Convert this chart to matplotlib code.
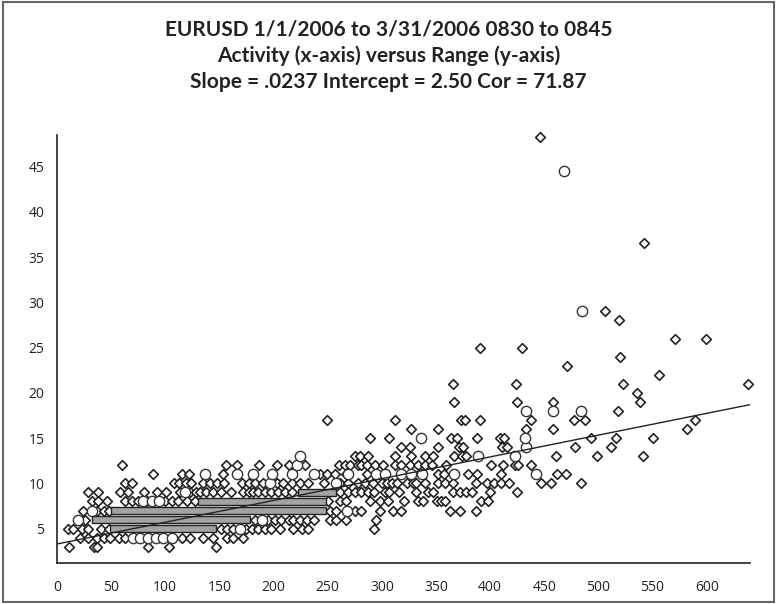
import matplotlib.pyplot as plt
from matplotlib.patches import Rectangle

# activity (x) and range (y), diamond markers
diamond_x = [11, 34, 37, 84, 103, 147,
             21, 29, 37, 43, 49, 57, 63, 115, 123, 135, 144, 157, 163, 172,
             10, 15, 23, 29, 41, 48, 151, 157, 163, 175, 180, 186, 192, 198, 206, 218, 226, 232, 293,
             26, 183, 195, 201, 207, 214, 218, 224, 231, 237, 252, 258, 267, 295,
             24, 37, 43, 48, 252, 258, 275, 281, 298, 310, 318, 363, 372, 387,
             32, 38, 46, 63, 69, 75, 83, 100, 106, 112, 120, 127, 250, 261, 267, 289, 298, 306, 320,
             333, 338, 351, 355, 358, 392, 398,
             29, 38, 58, 66, 80, 92, 101, 114, 123, 128, 132, 138, 144, 151, 161, 172, 177, 181, 186,
             192, 198, 204, 211, 217, 261, 269, 275, 281, 287, 293, 303, 307, 316, 332, 343, 347, 366,
             372, 378, 383, 400, 425,
             63, 69, 108, 113, 119, 124, 135, 141, 148, 154, 171, 177, 183, 190, 203, 209, 217, 224,
             232, 247, 261, 269, 278, 284, 292, 300, 305, 309, 314, 323, 329, 332, 340, 352, 358, 366,
             387, 397, 404, 410, 417, 447, 456, 484,
             89, 115, 122, 153, 243, 249, 257, 267, 286, 352, 357, 380, 388, 410, 462, 470,
             60, 156, 166, 187, 203, 214, 229, 260, 266, 271, 278, 281, 286, 294, 301, 312, 318, 326,
             333, 340, 346, 359, 401, 412, 423, 426, 438,
             275, 280, 287, 312, 327, 340, 347, 367, 374, 378, 461, 499, 541,
             318, 326, 352, 371, 375, 411, 416, 478, 512,
             289, 307, 364, 369, 388, 409, 413, 493, 516, 550,
             327, 352, 433, 458, 582,
             249, 312, 373, 377, 391, 438, 477, 488, 589,
             518,
             367, 425, 458, 538,
             536,
             366, 424, 523, 638,
             556, 471, 520, 391, 429, 571, 599, 519, 506, 542, 446]
diamond_y = [3] * 6 + [4] * 14 + [5] * 19 + [6] * 14 + [7] * 14 + [8] * 26 + [9] * 42 + \
            [10] * 44 + [11] * 16 + [12] * 27 + [13] * 13 + [14] * 9 + [15] * 10 + [16] * 5 + \
            [17] * 9 + [18] + [19] * 4 + [20] + [21] * 4 + \
            [22, 23, 24, 25, 25, 26, 26, 28, 29, 36.6, 48.3]

# circle markers
circle_x = [70, 77, 84, 91, 98, 106, 169, 19, 189, 32, 268, 79, 88, 94, 118, 197, 258,
            137, 166, 181, 199, 217, 237, 269, 295, 303, 318, 327, 337, 367, 442,
            222, 224, 389, 423, 433, 336, 432, 433, 458, 484, 485, 468]
circle_y = [4, 4, 4, 4, 4, 4, 5, 6, 6, 7, 7, 8, 8, 8, 9, 10, 10,
            11, 11, 11, 11, 11, 11, 11, 11, 11, 11, 11, 11, 11, 11,
            12, 13, 13, 13, 14, 15, 15, 18, 18, 18, 29, 44.5]

# grey bars: level, start, end
bar_level = [5, 6, 7, 8, 9]
bar_start = [49, 32, 50, 130, 223]
bar_end = [147, 178, 248, 248, 258]

# fitted line end points as drawn
line_x = [0, 640]
line_y = [3.3, 18.7]

title_lines = ['EURUSD 1/1/2006 to 3/31/2006 0830 to 0845',
               'Activity (x-axis) versus Range (y-axis)',
               'Slope = .0237 Intercept = 2.50 Cor = 71.87']

fig = plt.figure(figsize=(7.77, 6.04), dpi=100)
ax = fig.add_axes([57 / 777, 1 - 563 / 604, 693 / 777, 428 / 604])

ax.scatter(diamond_x, diamond_y, marker='D', s=24, facecolors='white',
           edgecolors='#222222', linewidths=1.2, zorder=2, clip_on=False)
ax.scatter(circle_x, circle_y, marker='o', s=55, facecolors='white',
           edgecolors='#333333', linewidths=1.0, zorder=2, clip_on=False)

ax.barh(bar_level, [e - s for s, e in zip(bar_start, bar_end)], left=bar_start,
        height=0.8, color='#a3a3a3', edgecolor='#222222', linewidth=1.0, zorder=3)

ax.plot(line_x, line_y, color='#222222', linewidth=1.0, zorder=4)

ax.set_xlim(0, 640)
ax.set_ylim(1.2, 48.5)
ax.set_xticks(range(0, 601, 50))
ax.set_yticks(range(5, 46, 5))
ax.tick_params(length=0, labelsize=10, labelcolor='#222222')
ax.tick_params(axis='y', pad=9)
ax.tick_params(axis='x', pad=12)
for lab in ax.get_xticklabels() + ax.get_yticklabels():
    lab.set_family(['Open Sans', 'DejaVu Sans'])
ax.spines['top'].set_visible(False)
ax.spines['right'].set_visible(False)
for side in ['left', 'bottom']:
    ax.spines[side].set_linewidth(1.2)
    ax.spines[side].set_color('#222222')

for i, t in enumerate(title_lines):
    fig.text(0.5, 1 - (30 + 26 * i) / 604, t, ha='center', va='center',
             fontsize=15, fontweight='bold', color='#222222',
             family=['Lato', 'DejaVu Sans'])

fig.patches.append(Rectangle((0.004, 0.004), 0.992, 0.992, transform=fig.transFigure,
                             fill=False, edgecolor='#666666', linewidth=1.5))

fig.savefig('out.png', dpi=100)
